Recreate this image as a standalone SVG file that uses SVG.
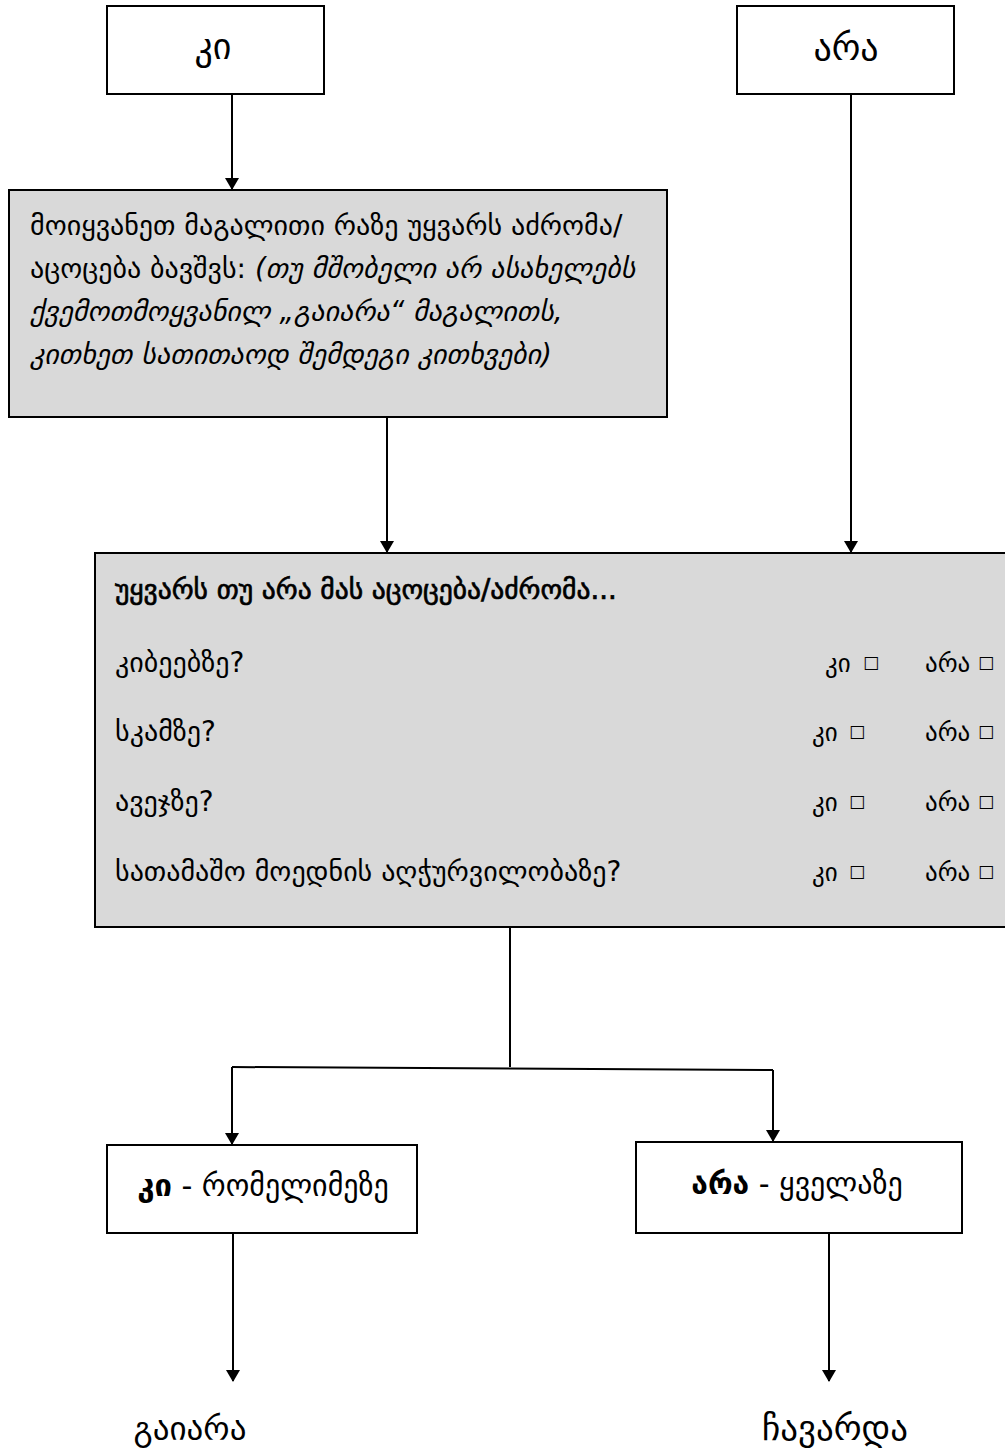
<svg xmlns="http://www.w3.org/2000/svg" width="1005" height="1453" viewBox="0 0 1005 1453">
<style>
.box{fill:#fff;stroke:#000;stroke-width:2}
.gbox{fill:#d9d9d9;stroke:#000;stroke-width:2}
.ln{stroke:#000;stroke-width:2;fill:none}
text{font-family:"DejaVu Sans","Noto Sans",sans-serif;fill:#000}
.t{font-size:28px}
.s{font-size:25px}
.i{font-style:italic}
.big{font-size:36px}
.b{font-weight:bold}
.hd{font-size:27.5px;stroke:#000;stroke-width:0.7}
.sq{font-size:17px}
</style>
<defs>
<marker id="ah" markerWidth="12" markerHeight="14" refX="11" refY="7" orient="auto" markerUnits="userSpaceOnUse">
<path d="M0,0 L12,7 L0,14 z" fill="#000"/>
</marker>
</defs>
<rect width="1005" height="1453" fill="#fff"/>
<g id="connectors">
<line class="ln" x1="232" y1="95" x2="232" y2="189" marker-end="url(#ah)"/>
<line class="ln" x1="387" y1="417" x2="387" y2="552" marker-end="url(#ah)"/>
<line class="ln" x1="851" y1="94" x2="851" y2="552" marker-end="url(#ah)"/>
<line class="ln" x1="510" y1="927" x2="510" y2="1067"/>
<line class="ln" x1="232" y1="1067" x2="773" y2="1070"/>
<line class="ln" x1="232" y1="1067" x2="232" y2="1144" marker-end="url(#ah)"/>
<line class="ln" x1="773" y1="1070" x2="773" y2="1141" marker-end="url(#ah)"/>
<line class="ln" x1="233" y1="1233" x2="233" y2="1381" marker-end="url(#ah)"/>
<line class="ln" x1="829" y1="1233" x2="829" y2="1381" marker-end="url(#ah)"/>
</g>
<g id="n-ki-top">
<rect class="box" x="107" y="6" width="217" height="88"/>
<text class="big" x="213" y="59" text-anchor="middle">კი</text>
</g>
<g id="n-ara-top">
<rect class="box" x="737" y="6" width="217" height="88"/>
<text class="big" x="846" y="60" text-anchor="middle">არა</text>
</g>
<g id="n-example">
<rect class="gbox" x="9" y="190" width="658" height="227"/>
<text class="t" x="30" y="235">მოიყვანეთ მაგალითი რაზე უყვარს აძრომა/</text>
<text class="t" x="30" y="278">აცოცება ბავშვს: <tspan class="i"> (თუ მშობელი არ ასახელებს</tspan></text>
<text class="t i" x="30" y="321">ქვემოთმოყვანილ „გაიარა“ მაგალითს,</text>
<text class="t i" x="30" y="364">კითხეთ სათითაოდ შემდეგი კითხვები)</text>
</g>
<g id="n-questions">
<rect class="gbox" x="95" y="553" width="920" height="374"/>
<text class="hd" x="115" y="599">უყვარს თუ არა მას აცოცება/აძრომა...</text>
<text class="t" x="115" y="672">კიბეებზე?</text>
<text class="s" x="825" y="672">კი</text><text class="sq" x="863" y="668">□</text>
<text class="s" x="925" y="672">არა</text><text class="sq" x="978" y="668">□</text>
<text class="t" x="115" y="741">სკამზე?</text>
<text class="s" x="812" y="741">კი</text><text class="sq" x="849" y="737">□</text>
<text class="s" x="925" y="741">არა</text><text class="sq" x="978" y="737">□</text>
<text class="t" x="115" y="811">ავეჯზე?</text>
<text class="s" x="812" y="811">კი</text><text class="sq" x="849" y="807">□</text>
<text class="s" x="925" y="811">არა</text><text class="sq" x="978" y="807">□</text>
<text class="t" x="115" y="881">სათამაშო მოედნის აღჭურვილობაზე?</text>
<text class="s" x="812" y="881">კი</text><text class="sq" x="849" y="877">□</text>
<text class="s" x="925" y="881">არა</text><text class="sq" x="978" y="877">□</text>
</g>
<g id="n-ki-some">
<rect class="box" x="107" y="1145" width="310" height="88"/>
<text x="263" y="1196" text-anchor="middle"><tspan class="b" font-size="31">კი</tspan><tspan font-size="30"> - რომელიმეზე</tspan></text>
</g>
<g id="n-ara-all">
<rect class="box" x="636" y="1142" width="326" height="91"/>
<text x="797" y="1194" text-anchor="middle"><tspan class="b" font-size="30">არა</tspan><tspan font-size="30"> - ყველაზე</tspan></text>
</g>
<g id="n-pass">
<text x="190" y="1440" text-anchor="middle" font-size="33">გაიარა</text>
</g>
<g id="n-fail">
<text x="835" y="1440" text-anchor="middle" font-size="35">ჩავარდა</text>
</g>
</svg>
